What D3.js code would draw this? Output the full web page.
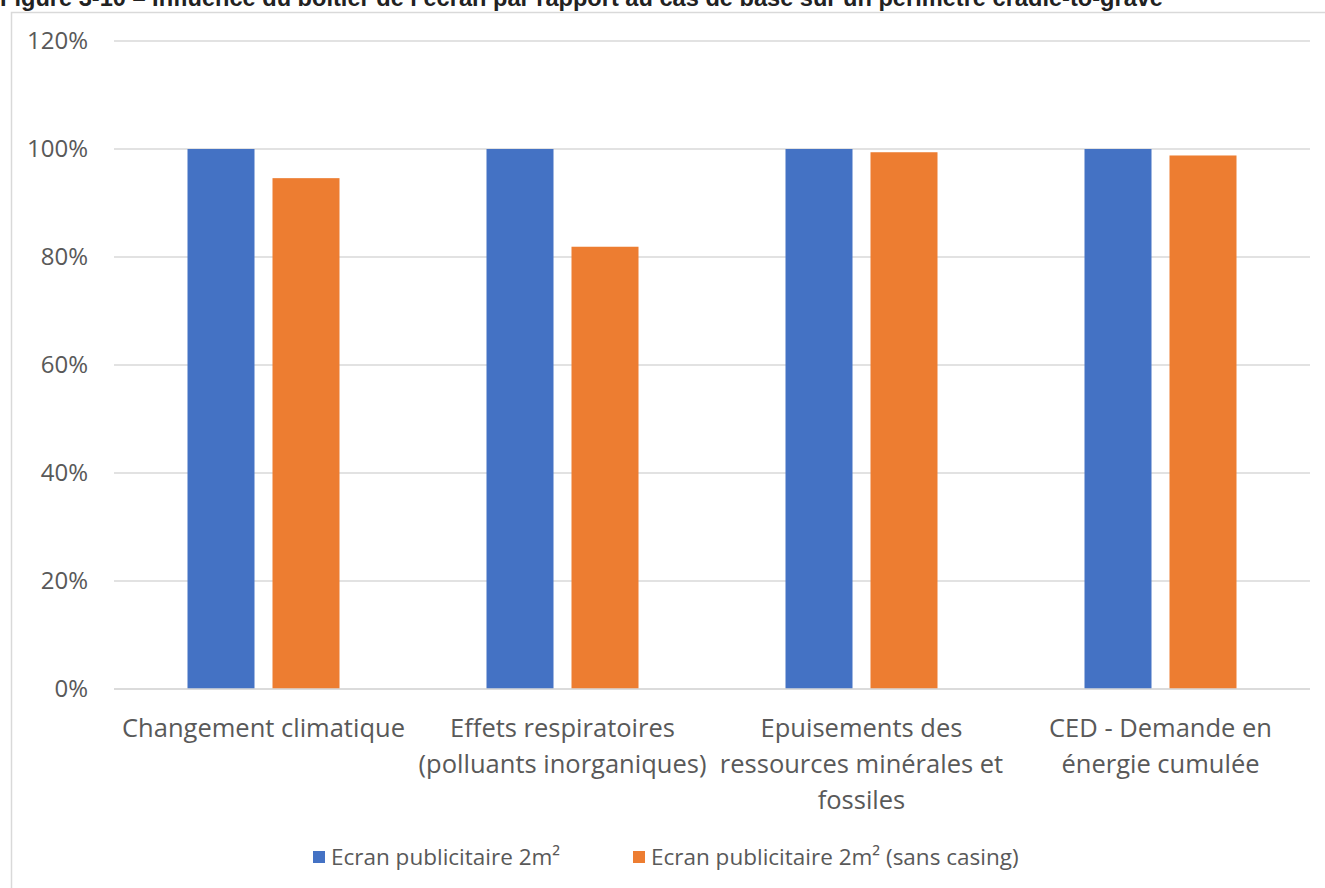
<!DOCTYPE html>
<html><head><meta charset="utf-8">
<script src="https://cdn.jsdelivr.net/npm/d3@7"></script>
<style>body{margin:0;background:#fff}svg{display:block}</style>
</head><body>
<svg id="c" width="1325" height="888"></svg>
<script>
const titleText = "Figure 3-10 – Influence du boîtier de l’écran par rapport au cas de base sur un périmètre cradle-to-grave";
const categories = [
  ["Changement climatique"],
  ["Effets respiratoires", "(polluants inorganiques)"],
  ["Epuisements des", "ressources minérales et", "fossiles"],
  ["CED - Demande en", "énergie cumulée"]
];
const seriesNames = ["Ecran publicitaire 2m²", "Ecran publicitaire 2m² (sans casing)"];
const seriesBase = [100, 100, 100, 100];
const seriesSansCasing = [94.6, 81.9, 99.4, 98.8];
const yTicks = [0, 20, 40, 60, 80, 100, 120];
const colors = ["#4472C4", "#ED7D31"];

const svg = d3.select("#c");
const font = "'Open Sans', sans-serif";

// title (clipped at top as in reference)
svg.append("text").attr("x", 0).attr("y", 6)
  .attr("font-family", "'Liberation Sans', Arial, sans-serif").attr("font-weight", "bold")
  .attr("font-size", 23.6).attr("fill", "#222").text(titleText);

// chart frame
svg.append("rect").attr("x", 11.5).attr("y", 12.5).attr("width", 1330).attr("height", 900)
  .attr("fill", "#fff").attr("stroke", "#d9d9d9").attr("stroke-width", 1.5);

const x0 = d3.scaleBand().domain(d3.range(categories.length)).range([114, 1310]).paddingInner(0).paddingOuter(0);
const y = d3.scaleLinear().domain([0, 120]).range([689, 41]);
const bw = 67, gap = 18;

// gridlines
svg.append("g").selectAll("line").data(yTicks).join("line")
  .attr("x1", 114).attr("x2", 1310).attr("y1", d => y(d)).attr("y2", d => y(d))
  .attr("stroke", "#d9d9d9").attr("stroke-width", 1.5);

// y tick labels
svg.append("g").selectAll("text").data(yTicks).join("text")
  .attr("x", 88).attr("y", d => y(d)).attr("dy", "0.35em").attr("text-anchor", "end")
  .attr("font-family", font).attr("font-size", 24).attr("fill", "#595959")
  .text(d => d + "%");

const series = [seriesBase, seriesSansCasing];
series.forEach((vals, si) => {
  svg.append("g").selectAll("rect").data(vals).join("rect")
    .attr("x", (d, i) => x0(i) + x0.bandwidth() / 2 + (si === 0 ? -(bw + gap / 2) : gap / 2))
    .attr("width", bw)
    .attr("y", d => y(d)).attr("height", d => y(0) - y(d))
    .attr("fill", colors[si]);
});

// redraw baseline above bars
svg.append("line").attr("x1", 114).attr("x2", 1310).attr("y1", y(0)).attr("y2", y(0))
  .attr("stroke", "#d9d9d9").attr("stroke-width", 1.5);

// category labels
const cl = svg.append("g");
categories.forEach((lines, i) => {
  const t = cl.append("text").attr("text-anchor", "middle")
    .attr("font-family", font).attr("font-size", 25.5).attr("fill", "#595959");
  lines.forEach((ln, j) => {
    t.append("tspan").attr("x", x0(i) + x0.bandwidth() / 2).attr("y", 737 + j * 36).text(ln);
  });
});

// legend
const leg = [{x: 313, tx: 331}, {x: 633, tx: 651}];
seriesNames.forEach((n, i) => {
  svg.append("rect").attr("x", leg[i].x).attr("y", 851).attr("width", 12).attr("height", 12).attr("fill", colors[i]);
  svg.append("text").attr("x", leg[i].tx).attr("y", 857).attr("dy", "0.35em")
    .attr("font-family", font).attr("font-size", 22.5).attr("fill", "#595959").text(n);
});
</script>
</body></html>
